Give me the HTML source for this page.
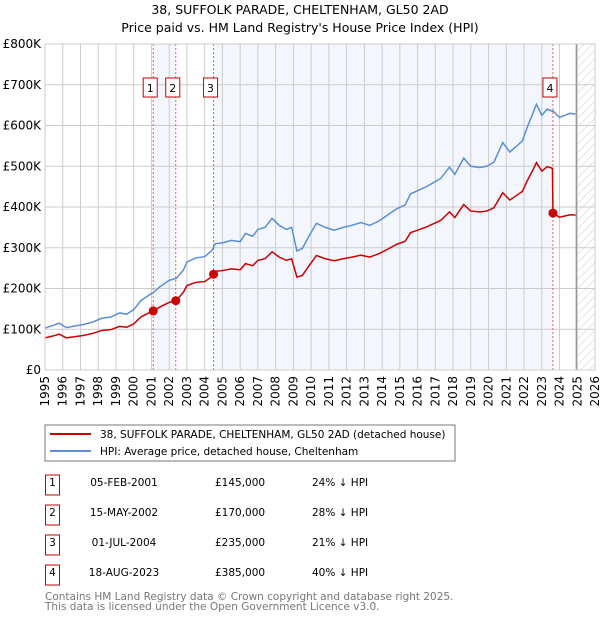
<!DOCTYPE html>
<html><head><meta charset="utf-8"><style>
body{margin:0;background:#fff;font-family:"DejaVu Sans","Liberation Sans",sans-serif;}
svg text{font-family:"DejaVu Sans","Liberation Sans",sans-serif;}
</style></head><body>
<svg id="c" width="600" height="620" xmlns="http://www.w3.org/2000/svg">
<defs><pattern id="hatch" width="6" height="6" patternUnits="userSpaceOnUse" patternTransform="rotate(45)"><line x1="0" y1="0" x2="0" y2="6" stroke="#ccc" stroke-width="1"/></pattern></defs>
<text x="300" y="14" text-anchor="middle" font-size="12.5">38, SUFFOLK PARADE, CHELTENHAM, GL50 2AD</text>
<text x="300" y="32" text-anchor="middle" font-size="12.5">Price paid vs. HM Land Registry's House Price Index (HPI)</text>
<g id="plot"></g>
<rect x="45" y="425" width="410" height="36" fill="#fff" stroke="#777"/>
<line x1="50" y1="434" x2="91" y2="434" stroke="#cc0000" stroke-width="2"/>
<text x="100" y="438" font-size="10.5">38, SUFFOLK PARADE, CHELTENHAM, GL50 2AD (detached house)</text>
<line x1="50" y1="451" x2="91" y2="451" stroke="#5b8fd4" stroke-width="2"/>
<text x="100" y="455" font-size="10.5">HPI: Average price, detached house, Cheltenham</text>
<g id="tbl" font-size="10.5"></g>
<text x="45" y="600" font-size="10.5" fill="#777">Contains HM Land Registry data © Crown copyright and database right 2025.</text>
<text x="45" y="610" font-size="10.5" fill="#777">This data is licensed under the Open Government Licence v3.0.</text>
</svg>
<script>
const dates=[1995.0,1995.5,1995.8,1996.2,1996.7,1997.2,1997.7,1998.2,1998.7,1999.2,1999.6,2000.0,2000.4,2000.8,2001.1,2001.5,2002.0,2002.4,2002.8,2003.0,2003.5,2004.0,2004.4,2004.6,2005.0,2005.5,2006.0,2006.3,2006.7,2007.0,2007.4,2007.8,2008.2,2008.6,2008.9,2009.2,2009.5,2009.9,2010.3,2010.8,2011.3,2011.8,2012.3,2012.8,2013.3,2013.8,2014.3,2014.8,2015.3,2015.6,2016.0,2016.5,2016.9,2017.3,2017.8,2018.1,2018.6,2019.0,2019.5,2019.9,2020.3,2020.8,2021.2,2021.6,2021.9,2022.2,2022.5,2022.7,2023.0,2023.3,2023.6,2023.63,2024.0,2024.3,2024.6,2024.9];
const hpiValues=[103,110,115,104,108,112,118,127,130,140,137,148,170,182,190,205,220,225,245,265,275,278,293,310,312,318,315,335,328,345,350,372,355,345,350,292,298,330,360,350,343,350,355,362,355,365,380,395,405,432,440,450,460,470,498,480,520,500,497,500,510,558,535,550,562,598,630,652,625,640,635,636,620,625,630,628];
const priceValues=[79,84,88,79,82,85,90,97,99,107,105,113,130,139,145,155,166,170,191,207,215,217,229,242,244,248,246,261,256,269,273,290,277,269,273,228,232,257,281,273,268,273,277,282,277,285,296,308,316,337,343,351,359,367,388,374,406,390,388,390,398,435,417,429,438,466,491,509,488,499,495,385,375,378,381,380];
const saleDates=[2001.1,2002.37,2004.5,2023.63];
const salePrices=[145,170,235,385];
const saleLabels=["05-FEB-2001","15-MAY-2002","01-JUL-2004","18-AUG-2023"];
const salePriceText=["£145,000","£170,000","£235,000","£385,000"];
const saleDiffText=["24% ↓ HPI","28% ↓ HPI","21% ↓ HPI","40% ↓ HPI"];
const yTicks=[0,100,200,300,400,500,600,700,800];
const yTickLabels=["£0","£100K","£200K","£300K","£400K","£500K","£600K","£700K","£800K"];
const xTicks=[1995,1996,1997,1998,1999,2000,2001,2002,2003,2004,2005,2006,2007,2008,2009,2010,2011,2012,2013,2014,2015,2016,2017,2018,2019,2020,2021,2022,2023,2024,2025,2026];
const X0=45,X1=595,Y0=370,Y1=44;
const xs=d=>X0+(d-1995)/(2026-1995)*(X1-X0);
const ys=v=>Y0-v/800*(Y0-Y1);
const NS="http://www.w3.org/2000/svg";
const plot=document.getElementById('plot');
function mk(tag,attrs,parent){const e=document.createElementNS(NS,tag);for(const k in attrs)e.setAttribute(k,attrs[k]);(parent||plot).appendChild(e);return e;}
let e;
e=mk('rect',{x:X0,y:Y1,width:X1-X0,height:Y0-Y1,fill:'#fff'});


e=mk('rect',{x:xs(saleDates[0]),y:Y1,width:xs(saleDates[1])-xs(saleDates[0]),height:Y0-Y1,fill:'#f3f6fd'});


e=mk('rect',{x:xs(saleDates[2]),y:Y1,width:xs(saleDates[3])-xs(saleDates[2]),height:Y0-Y1,fill:'#f3f6fd'});


e=mk('rect',{x:xs(2024.95),y:Y1,width:X1-xs(2024.95),height:Y0-Y1,fill:'url(#hatch)'});


yTicks.forEach((t,i)=>{
 e=mk('line',{x1:X0,x2:X1,y1:ys(t),y2:ys(t),stroke:'#ccc'});
 
 
 e=mk('text',{x:X0-4,y:ys(t)+4,'text-anchor':'end','font-size':'12'});e.textContent=yTickLabels[i];
 
 
});
xTicks.forEach(t=>{
 e=mk('line',{x1:xs(t),x2:xs(t),y1:Y1,y2:Y0,stroke:'#ccc'});
 
 
 e=mk('text',{x:0,y:0,'text-anchor':'end','font-size':'12',transform:`translate(${xs(t)+4},${Y0+6}) rotate(-90)`});e.textContent=t;
 
 
});
e=mk('line',{x1:xs(2024.95),x2:xs(2024.95),y1:Y1,y2:Y0,stroke:'#999','stroke-width':1.5});


saleDates.forEach((d,i)=>{
 e=mk('line',{x1:xs(d),x2:xs(d),y1:Y1,y2:Y0,stroke:'#e06060','stroke-dasharray':'2,2'});
 
 
 e=mk('rect',{x:xs(d)-10,y:78,width:14,height:19,fill:'#fff',stroke:'#cc0000'});
 
 
 e=mk('text',{x:xs(d)-3,y:92,'text-anchor':'middle','font-size':'11'});e.textContent=i+1;
 
 
});
e=mk('polyline',{points:dates.map((d,i)=>xs(d)+','+ys(hpiValues[i])).join(' '),fill:'none',stroke:'#5b8fd4','stroke-width':1.5});


e=mk('polyline',{points:dates.map((d,i)=>xs(d)+','+ys(priceValues[i])).join(' '),fill:'none',stroke:'#cc0000','stroke-width':1.5});


saleDates.forEach((d,i)=>{
 e=mk('circle',{cx:xs(d),cy:ys(salePrices[i]),r:4.5,fill:'#cc0000'});
 
 
});
e=mk('rect',{x:X0,y:Y1,width:X1-X0,height:Y0-Y1,fill:'none',stroke:'#ccc'});


const tbl=document.getElementById('tbl');
saleDates.forEach((d,i)=>{
 const cy=485+i*30;
 e=mk('rect',{x:45.5,y:cy-10,width:14,height:20,fill:'none',stroke:'#cc0000'},tbl);
 
 
 e=mk('text',{x:52.5,y:cy+1,'text-anchor':'middle'},tbl);e.textContent=i+1;
 
 
 e=mk('text',{x:124,y:cy+1,'text-anchor':'middle'},tbl);e.textContent=saleLabels[i];
 
 
 e=mk('text',{x:215,y:cy+1},tbl);e.textContent=salePriceText[i];
 
 
 e=mk('text',{x:312,y:cy+1},tbl);e.textContent=saleDiffText[i];
 
 
});
</script>
</body></html>
